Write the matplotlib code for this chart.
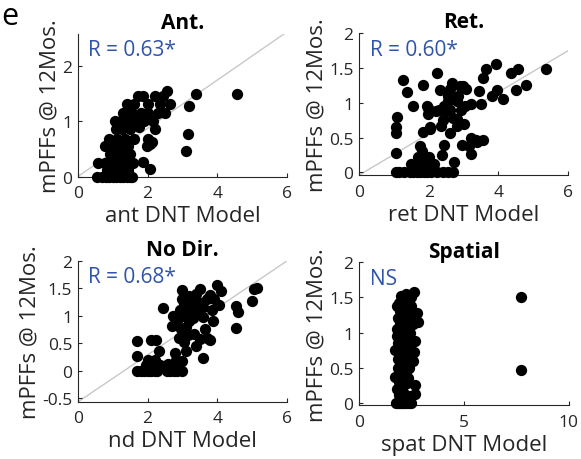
from matplotlib import pyplot as plot

plot.rcParams['font.family'] = ['Open Sans', 'DejaVu Sans']

# Ant. panel
ant_x = [0.55, 0.7, 0.8, 0.9, 1.0, 1.1, 1.2, 1.3, 1.4, 1.5, 1.55,
         0.85, 1.05, 1.25, 1.45, 2.08,
         0.57, 0.78, 0.98, 1.18, 1.38, 1.58, 1.86,
         0.92, 1.12, 1.3, 1.5,
         0.77, 0.98, 1.22, 1.43, 1.98, 2.08,
         0.9, 1.12, 1.35, 1.6, 2.02, 2.12,
         1.08, 1.28, 1.5, 1.75, 2.2,
         1.06, 1.25, 1.45, 1.63, 1.9, 2.15,
         1.3, 1.55, 1.8, 2.0, 2.3, 2.5,
         1.4, 1.62, 2.0, 2.35, 2.64,
         1.72, 1.88, 2.2, 2.45, 2.55,
         3.4, 4.56, 3.18, 3.15, 3.1]
ant_y = [0, 0, 0, 0, 0, 0, 0, 0, 0, 0, 0,
         0.12, 0.12, 0.12, 0.12, 0.13,
         0.25, 0.25, 0.25, 0.25, 0.25, 0.25, 0.27,
         0.4, 0.4, 0.4, 0.4,
         0.55, 0.55, 0.55, 0.55, 0.55, 0.58,
         0.68, 0.68, 0.68, 0.68, 0.68, 0.62,
         0.85, 0.85, 0.85, 0.9, 0.85,
         1.0, 1.0, 1.0, 1.0, 1.0, 1.0,
         1.15, 1.15, 1.15, 1.15, 1.15, 1.15,
         1.3, 1.3, 1.3, 1.3, 1.3,
         1.45, 1.45, 1.45, 1.45, 1.54,
         1.48, 1.48, 1.27, 0.77, 0.46]

# Ret. panel
ret_x = [1.27, 1.37, 2.23, 1.84, 1.55, 1.09, 1.05, 1.07, 1.06, 1.98, 1.98, 2.03, 1.84, 1.75,
         1.05, 1.15, 1.3, 1.45, 1.55, 1.65, 1.75, 1.85, 1.95, 2.05, 2.25, 2.4, 2.55, 2.7,
         1.5, 1.65, 1.8, 1.95, 2.15, 1.7, 1.85, 2.0, 1.8,
         2.66, 2.98, 3.08, 2.82, 2.55, 2.5, 2.92, 2.7, 2.8, 2.6, 3.0, 3.2, 3.45, 3.55,
         3.63, 3.93, 4.35, 4.55, 4.5, 4.78, 5.37, 4.12, 3.97, 3.8, 3.5, 3.2, 3.35, 3.55,
         3.14, 3.2, 2.72, 2.37, 2.45, 1.95, 2.2, 2.35, 2.95,
         2.32, 2.9, 2.55, 2.03, 2.8, 3.38,
         2.3, 2.45, 2.62, 2.85, 3.05, 2.6, 2.4]
ret_y = [1.33, 1.16, 1.43, 1.25, 0.95, 0.79, 0.65, 0.57, 0.28, 0.93, 0.84, 0.65, 0.58, 0.38,
         0, 0, 0, 0, 0, 0, 0, 0, 0, 0, 0, 0, 0, 0,
         0.12, 0.12, 0.12, 0.12, 0.12, 0.22, 0.22, 0.22, 0.3,
         1.28, 1.24, 1.2, 1.02, 1.02, 0.88, 0.9, 0.78, 0.66, 0.57, 0.7, 0.98, 1.17, 1.35,
         1.48, 1.55, 1.42, 1.49, 1.18, 1.26, 1.48, 1.05, 1.18, 1.1, 0.98, 0.5, 0.47, 0.47,
         0.38, 0.27, 0.15, 0.25, 0.4, 0.95, 0.88, 0.66, 0.4,
         1.18, 1.24, 1.1, 0.62, 0.76, 0.44,
         0.9, 0.95, 0.9, 1.1, 0.95, 1.2, 0.75]

# No Dir. panel
nd_x = [1.69, 1.69, 1.69, 1.8, 1.9, 2.0, 2.1, 2.2, 2.26, 2.55, 2.65, 2.75, 2.85, 2.98,
        2.44, 2.24, 2.1, 2.33, 2.0, 2.2, 1.95, 2.15, 2.35, 2.6, 2.8,
        2.98, 2.98, 2.92, 2.7, 2.73, 3.5, 3.98, 4.1, 3.8, 4.05, 3.56, 3.33, 3.6, 3.33,
        3.5, 3.4, 3.6, 3.78, 3.1, 3.1, 3.0, 2.82, 2.78, 3.05, 4.53, 4.58, 4.53, 5.0,
        5.15, 5.05, 3.88, 3.85,
        2.85, 2.95, 3.0, 3.05, 3.15, 3.2, 3.25, 3.3, 3.4, 3.45, 3.6, 3.7, 3.15, 2.9,
        3.65, 3.7, 3.2, 3.4, 3.9]
nd_y = [0.54, 0.26, 0, 0, 0, 0, 0, 0, 0, 0, 0, 0, 0, 0,
        1.14, 0.55, 0.55, 0.35, 0.2, 0.2, 0.1, 0.08, 0.1, 0.12, 0.1,
        1.46, 1.31, 1.1, 0.82, 1.0, 1.48, 1.56, 1.45, 1.38, 1.2, 1.24, 1.13, 0.98, 0.67,
        0.57, 0.45, 0.23, 0.55, 0.8, 0.35, 0.18, 0.2, 0.33, 0.53, 1.18, 1.06, 0.77, 1.27,
        1.5, 1.48, 0.9, 1.1,
        0.9, 0.75, 1.0, 1.2, 1.05, 0.9, 1.2, 0.95, 1.05, 1.25, 1.15, 1.3, 0.65, 0.6,
        0.75, 0.6, 1.35, 1.4, 1.3]

# Spatial panel
spat_x = [1.75, 1.85, 1.95, 2.05, 2.15, 2.25, 2.4, 2.5,
          1.9, 2.1, 2.45, 2.65, 2.65, 1.95, 2.3, 1.7, 2.0, 2.25, 1.85, 2.1, 2.55, 1.95,
          2.3, 2.6, 1.73, 2.05, 2.4, 2.65, 1.85, 2.2, 1.9, 2.15, 2.45, 1.8, 2.3, 2.0,
          2.55, 2.8, 1.85, 2.15, 2.4, 2.75, 1.95, 2.25, 2.5, 1.9, 2.1, 2.35, 2.0, 2.25,
          2.62, 2.5, 1.8, 2.2, 2.0, 2.35, 2.1, 1.8, 2.2, 2.0,
          1.85, 2.1, 2.3, 1.95, 2.2, 2.45, 1.8, 2.05, 2.3, 1.9, 2.15, 2.4,
          7.7, 7.7]
spat_y = [0, 0, 0, 0, 0, 0, 0, 0,
          0.12, 0.15, 0.1, 0.13, 0.25, 0.25, 0.28, 0.37, 0.4, 0.45, 0.5, 0.55, 0.6, 0.62,
          0.68, 0.72, 0.75, 0.78, 0.8, 0.88, 0.85, 0.9, 0.95, 1.0, 1.0, 1.05, 1.08, 1.1,
          1.12, 1.15, 1.2, 1.22, 1.25, 1.28, 1.3, 1.35, 1.38, 1.42, 1.45, 1.48, 1.52, 1.55,
          1.58, 1.5, 1.38, 1.15, 0.7, 0.35, 0.3, 0.2, 0.05, 0.05,
          0.62, 0.6, 0.52, 1.12, 1.3, 1.2, 0.95, 0.88, 0.98, 0.3, 0.42, 0.5,
          1.51, 0.47]

titles = ['Ant.', 'Ret.', 'No Dir.', 'Spatial']
xlabels = ['ant DNT Model', 'ret DNT Model', 'nd DNT Model', 'spat DNT Model']
stats = ['R = 0.63*', 'R = 0.60*', 'R = 0.68*', 'NS']

blue = '#2F54A8'
grey = '#262626'

fig = plot.figure(figsize=(5.81, 4.6), dpi=100)
ax1 = fig.add_axes([0.134, 0.614, 0.360, 0.311])
ax2 = fig.add_axes([0.618, 0.617, 0.360, 0.309])
ax3 = fig.add_axes([0.134, 0.124, 0.360, 0.307])
ax4 = fig.add_axes([0.618, 0.117, 0.361, 0.311])
axes = [ax1, ax2, ax3, ax4]
xs = [ant_x, ret_x, nd_x, spat_x]
ys = [ant_y, ret_y, nd_y, spat_y]

# fit lines (start at lower-left corner)
ax1.plot([0, 7], [0, 7 * 0.435], color='#c8c8c8', lw=1, zorder=1)
ax2.plot([0, 7], [-0.04, -0.04 + 7 * 0.298], color='#c8c8c8', lw=1, zorder=1)
ax3.plot([0, 7], [-0.57, -0.57 + 7 * 0.428], color='#c8c8c8', lw=1, zorder=1)

for i in range(4):
    ax = axes[i]
    ax.scatter(xs[i], ys[i], s=66, color='black', zorder=3, clip_on=False, linewidths=0)
    ax.set_title(titles[i], fontsize=15, fontweight='bold', pad=4)
    ax.set_xlabel(xlabels[i], fontsize=16, color=grey, labelpad=3)
    ax.set_ylabel('mPFFs @ 12Mos.', fontsize=16, color=grey, labelpad=1)
    ax.text(0.05, 0.96, stats[i], transform=ax.transAxes, color=blue,
            fontsize=15, va='top', ha='left')
    ax.spines['top'].set_visible(False)
    ax.spines['right'].set_visible(False)
    ax.spines['left'].set_color(grey)
    ax.spines['bottom'].set_color(grey)
    ax.tick_params(direction='in', length=3, labelsize=12.5, colors=grey, pad=4)
    ax.tick_params(axis='x', pad=6)

ax1.set_xlim(0, 6)
ax1.set_ylim(0, 2.58)
ax1.set_xticks([0, 2, 4, 6])
ax1.set_yticks([0, 1, 2])

ax2.set_xlim(0, 6)
ax2.set_ylim(-0.04, 2)
ax2.set_xticks([0, 2, 4, 6])
ax2.set_yticks([0, 0.5, 1, 1.5, 2])
ax2.set_yticklabels(['0', '0.5', '1', '1.5', '2'])

ax3.set_xlim(0, 6)
ax3.set_ylim(-0.57, 2)
ax3.set_xticks([0, 2, 4, 6])
ax3.set_yticks([-0.5, 0, 0.5, 1, 1.5, 2])
ax3.set_yticklabels(['-0.5', '0', '0.5', '1', '1.5', '2'])

ax4.set_xlim(0, 10)
ax4.set_ylim(-0.03, 2)
ax4.set_xticks([0, 5, 10])
ax4.set_yticks([0, 0.5, 1, 1.5, 2])
ax4.set_yticklabels(['0', '0.5', '1', '1.5', '2'])

fig.text(0.003, 0.995, 'e', fontsize=22, va='top', ha='left')

plot.savefig('out.png', dpi=100)
